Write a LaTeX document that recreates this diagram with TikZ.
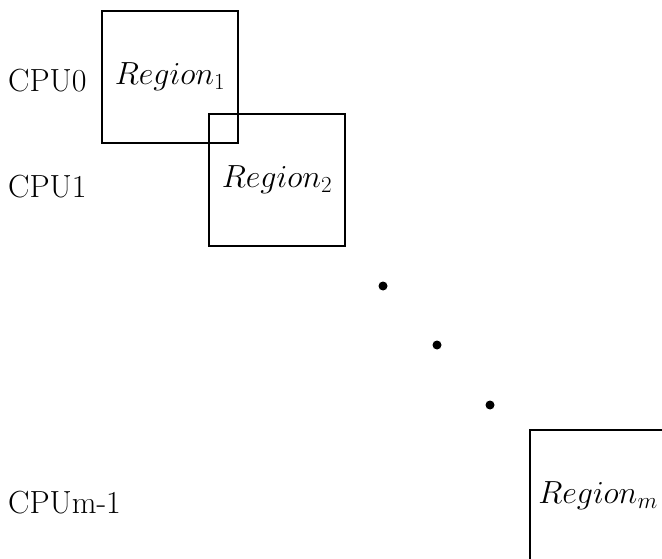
\RequirePackage{fix-cm}
\documentclass[tikz,border=0pt]{standalone}
\newcommand{\regsub}[1]{_{\mbox{\fontsize{23}{27}\selectfont$#1$}}}
\begin{document}
\begin{tikzpicture}[x=1pt,y=-1pt,
  lbl/.style={font=\fontsize{32}{38}\selectfont, inner sep=0pt, anchor=base west},
  regbox/.style={draw, line width=1.7pt, minimum width=136pt, minimum height=132pt, inner sep=0pt, font=\fontsize{32}{38}\selectfont},
  bigdot/.style={circle, fill, inner sep=0pt, minimum size=9pt}]
\useasboundingbox (0,0) rectangle (662,559);
\clip (0,0) rectangle (662,559);
\node[regbox] (r1) at (170,77) {$Region\regsub{1}$};
\node[regbox] (r2) at (277,180) {$Region\regsub{2}$};
\node[regbox] (rm) at (598,496) {$Region\regsub{m}$};
\node[lbl] (c0) at (8,92) {CPU0};
\node[lbl] (c1) at (8,197) {CPU1};
\node[lbl] (cm) at (8,513) {CPUm-1};
\node[bigdot] (d1) at (383,286) {};
\node[bigdot] (d2) at (437,345) {};
\node[bigdot] (d3) at (490,405) {};
\end{tikzpicture}
\end{document}
